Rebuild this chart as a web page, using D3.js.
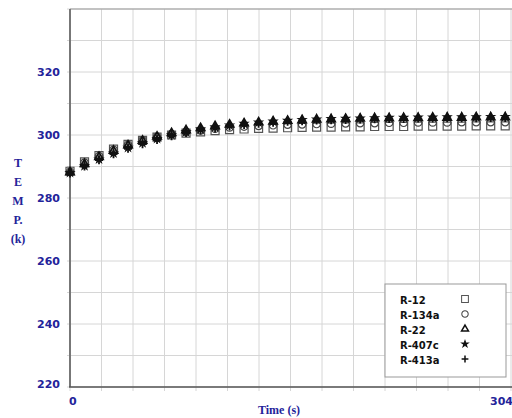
<!DOCTYPE html>
<html>
<head>
<meta charset="utf-8">
<script src="https://cdn.jsdelivr.net/npm/d3@7"></script>
<style>
  body { margin: 0; background: #fff; }
  .tick-label { font-family: "DejaVu Sans", sans-serif; font-weight: bold; font-size: 11px; fill: #23239a; }
  .axis-title { font-family: "Liberation Serif", serif; font-weight: bold; font-size: 12px; fill: #23239a; }
  .legend-text { font-family: "DejaVu Sans", sans-serif; font-weight: bold; font-size: 10px; fill: #111; }
</style>
</head>
<body>
<div id="chart"></div>
<script>
// time samples (s)
const times = [0,10,20,30,40,50,60,70,80,90,100,110,120,130,140,150,160,170,180,190,200,210,220,230,240,250,260,270,280,290,300];

const seriesNames = ["R-12", "R-134a", "R-22", "R-407c", "R-413a"];

const r12 = [288.5,291.5,293.5,295.5,297.0,298.3,299.3,300.0,300.6,301.0,301.4,301.7,301.9,302.1,302.2,302.3,302.4,302.5,302.5,302.6,302.6,302.7,302.7,302.7,302.8,302.8,302.8,302.8,302.9,302.9,302.9];
const r134a = [288.3,291.2,293.3,295.3,296.9,298.3,299.4,300.3,301.0,301.5,302.0,302.4,302.7,302.9,303.1,303.3,303.4,303.5,303.6,303.7,303.8,303.8,303.9,303.9,304.0,304.0,304.0,304.1,304.1,304.1,304.1];
const r22 = [288.2,290.8,293.0,295.0,296.7,298.2,299.5,300.6,301.5,302.2,302.8,303.3,303.7,304.0,304.3,304.5,304.7,304.9,305.0,305.1,305.2,305.3,305.3,305.4,305.4,305.5,305.5,305.5,305.6,305.6,305.6];
const r407c = [288.0,290.2,292.3,294.2,296.0,297.5,298.8,300.0,301.0,301.8,302.5,303.1,303.6,304.0,304.3,304.6,304.8,305.0,305.1,305.2,305.3,305.4,305.5,305.5,305.6,305.6,305.7,305.7,305.7,305.8,305.8];
const r413a = [287.8,290.0,292.0,293.9,295.6,297.1,298.4,299.6,300.6,301.4,302.1,302.7,303.2,303.6,303.9,304.2,304.4,304.6,304.7,304.8,304.9,305.0,305.1,305.1,305.2,305.2,305.3,305.3,305.3,305.4,305.4];

const seriesValues = [r12, r134a, r22, r407c, r413a];

const yTicks = [220, 240, 260, 280, 300, 320];
const yLabelLetters = ["T", "E", "M", "P.", "(k)"];

const W = 512, H = 418;
const svg = d3.select("#chart").append("svg")
  .attr("width", W).attr("height", H);

const x = d3.scaleLinear().domain([0, 304]).range([70, 511]);
const y = d3.scaleLinear().domain([220, 340]).range([387, 9]);

// grid
const xGrid = d3.range(15).map(i => 304 * i / 14);
svg.append("g").selectAll("line").data(xGrid).join("line")
  .attr("x1", d => x(d)).attr("x2", d => x(d))
  .attr("y1", y(340)).attr("y2", y(220) + 4)
  .attr("stroke", "#d6d6d6").attr("stroke-width", 1);
svg.append("g").selectAll("line").data(d3.range(220, 341, 10)).join("line")
  .attr("x1", x(0) - 3).attr("x2", W)
  .attr("y1", d => y(d)).attr("y2", d => y(d))
  .attr("stroke", "#d6d6d6").attr("stroke-width", 1);

// frame
svg.append("line")
  .attr("x1", x(0)).attr("x2", W).attr("y1", y(340)).attr("y2", y(340))
  .attr("stroke", "#999").attr("stroke-width", 1);
svg.append("line")
  .attr("x1", x(0)).attr("x2", x(0)).attr("y1", y(340)).attr("y2", y(220))
  .attr("stroke", "#777").attr("stroke-width", 2);
svg.append("line")
  .attr("x1", x(0) - 1).attr("x2", W).attr("y1", y(220)).attr("y2", y(220))
  .attr("stroke", "#555").attr("stroke-width", 1.5);

// y tick labels
svg.append("g").selectAll("text").data(yTicks).join("text")
  .attr("class", "tick-label")
  .attr("x", 60).attr("y", d => d === 220 ? y(d) + 1 : y(d) + 4)
  .attr("text-anchor", "end")
  .text(d => d);

// x tick labels
svg.append("text").attr("class", "tick-label")
  .attr("x", x(0) - 1).attr("y", 405).text("0");
svg.append("text").attr("class", "tick-label")
  .attr("x", 513).attr("y", 405).attr("text-anchor", "end").text("304");

// axis titles
svg.append("text").attr("class", "axis-title")
  .attr("x", 279).attr("y", 414).attr("text-anchor", "middle")
  .text("Time (s)");
svg.append("g").selectAll("text").data(yLabelLetters).join("text")
  .attr("class", "axis-title")
  .attr("x", 18).attr("y", (d, i) => 167 + i * 19)
  .attr("text-anchor", "middle")
  .attr("font-size", 11)
  .text(d => d);

// markers
const shapes = [
  {path: d3.symbol(d3.symbolSquare, 64)(), fill: "none", stroke: "#555", sw: 1.2},
  {path: d3.symbol(d3.symbolCircle, 45)(), fill: "none", stroke: "#444", sw: 1.2},
  {path: d3.symbol(d3.symbolTriangle, 28)(), fill: "none", stroke: "#111", sw: 1.8},
  {path: d3.symbol(d3.symbolStar, 18)(), fill: "#111", stroke: "#111", sw: 1.2},
  {path: "M-4,0H4M0,-4V4", fill: "none", stroke: "#111", sw: 1.8}
];

seriesValues.forEach((vals, si) => {
  const s = shapes[si];
  svg.append("g").selectAll("path").data(times).join("path")
    .attr("d", s.path)
    .attr("transform", (t, i) => `translate(${x(t)},${y(vals[i])})`)
    .attr("fill", s.fill).attr("stroke", s.stroke).attr("stroke-width", s.sw);
});

// legend
const lg = svg.append("g");
lg.append("rect")
  .attr("x", 385).attr("y", 284).attr("width", 121).attr("height", 93)
  .attr("fill", "#fff").attr("stroke", "#999").attr("stroke-width", 1);
seriesNames.forEach((name, i) => {
  const cy = 300 + i * 15;
  lg.append("text").attr("class", "legend-text")
    .attr("x", 400).attr("y", cy + 4).text(name);
  lg.append("path")
    .attr("d", shapes[i].path)
    .attr("transform", `translate(465,${cy - 1}) scale(0.85)`)
    .attr("fill", shapes[i].fill).attr("stroke", shapes[i].stroke)
    .attr("stroke-width", shapes[i].sw);
});
</script>
</body>
</html>
